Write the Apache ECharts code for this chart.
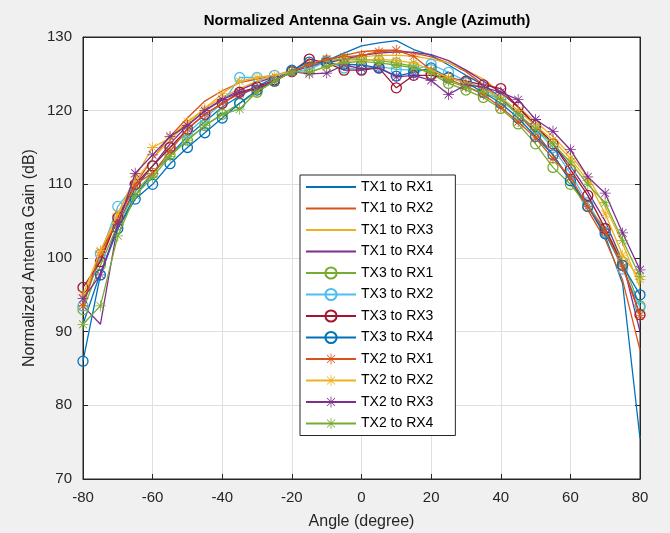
<!DOCTYPE html>
<html>
<head>
<meta charset="utf-8">
<script src="https://cdn.jsdelivr.net/npm/echarts@6/dist/echarts.min.js"></script>
<style>
html,body{margin:0;padding:0;background:#f0f0f0;}
#chart{width:670px;height:533px;}
</style>
</head>
<body>
<div id="chart"></div>
<script>
const angles = [-80,-75,-70,-65,-60,-55,-50,-45,-40,-35,-30,-25,-20,-15,-10,-5,0,5,10,15,20,25,30,35,40,45,50,55,60,65,70,75,80];

const seriesNames = ["TX1 to RX1","TX1 to RX2","TX1 to RX3","TX1 to RX4","TX3 to RX1","TX3 to RX2","TX3 to RX3","TX3 to RX4","TX2 to RX1","TX2 to RX2","TX2 to RX3","TX2 to RX4"];

const tx1rx1 = [91,98,104,108.5,111.5,114,116.5,118.5,120.5,122,123.3,124.5,125.5,126,126.8,127.8,128.8,129.2,129.5,128.3,127.5,126.2,124.8,123.5,121.8,119.5,117,114,110.5,107,103,96.5,75.5];
const tx1rx2 = [94,100,105.5,110,113.5,116.5,119,121.3,122.7,123.8,124.3,124.8,125.3,126,126.8,127.5,128,128.2,128.2,127.8,127.3,126.5,125.3,123.5,121.5,119.5,117,114,110.5,106.5,102.5,97,87.5];
const tx1rx3 = [94.5,100.5,106,110.5,113.5,116,118.3,120.3,121.8,123,124,124.8,125.5,126,126.5,127,127.3,127.5,127.5,127.4,127,126.5,125.5,124.3,122.5,120.5,118.5,116.5,114,111,107,102,96];
const tx1rx4 = [93.5,91,104.5,109.5,112.5,115.5,118,120,121.5,122.8,123.8,124.6,125.3,126,126.5,127,127.5,127.8,128,127.9,127.6,126.8,125.5,124,122.5,120.5,118,115.5,112.5,109,105,99.5,90];
const tx3rx1 = [93,99,104.5,109,111.5,114,116,118,119.5,121,122.5,124,125.3,126.3,126.8,127,127,126.8,126.5,126,125,123.7,122.8,121.8,120.3,118.2,115.5,112.3,110,107,104,99.5,93.5];
const tx3rx2 = [93.5,100.5,107,110,112.5,115,117,119,121,124.5,124.5,124.8,125.3,125.6,126.7,125.8,125.6,126,125.6,125.5,126.3,125.2,124,123,121.5,119.5,117.5,115,111.5,107.5,103.5,98.5,93.3];
const tx3rx3 = [96,99.5,105.5,110,112.5,115,117.5,119.5,121,122.5,123.2,124.2,125.3,127,126.5,125.5,125.5,125.8,123.1,124.8,124.8,124.5,124,123.5,123,120.5,118,115.5,112,108.5,104,99,92.3];
const tx3rx4 = [86,97.7,104,108,110,112.8,115,117,119,121,122.8,124,125.5,126.6,126.5,126.3,126.2,125.8,124.7,125.2,125.8,124.5,123.8,122.5,121,119,116.5,114,110.5,107,103.3,99,95];
const tx2rx1 = [93.5,100.8,105,110,111.5,114.5,117.5,119.5,121,122.3,123,124,125.3,126.3,127,127.3,127.5,128,128.2,127.4,125.5,124.3,123.3,122.2,120.5,118.5,116.3,113.5,111,107,103.6,98.8,92.2];
const tx2rx2 = [95,101,106,111,115,116.3,118.5,120.3,122.3,124,124.5,124.8,125.2,125.2,126,126.7,126.8,127,126.8,126.5,125.5,124.5,123.8,123,121.8,120,118,116,113.5,110.5,106,100.4,97.1];
const tx2rx3 = [94.5,97.7,104.5,111.5,114,116.5,118,120,121.5,122.5,123,124,125.3,125,125.1,126.2,125.7,125.8,124.6,124.8,124.1,122.2,123.5,123.2,122.5,121.5,118.8,117.2,114.7,111,108.8,103.4,98.4];
const tx2rx4 = [91,93.5,103,108.5,111,113.8,116,118,119.5,120.2,122.6,124,125.3,125.2,126,126.5,126.7,126.5,126.2,125.8,125.2,124,123.2,122.5,121.5,119.5,117.5,115.5,113,110,107.5,102.4,97.5];

const xTicks = [-80,-60,-40,-20,0,20,40,60,80];
const yTicks = [70,80,90,100,110,120,130];

const values = [tx1rx1,tx1rx2,tx1rx3,tx1rx4,tx3rx1,tx3rx2,tx3rx3,tx3rx4,tx2rx1,tx2rx2,tx2rx3,tx2rx4];
const colors = ['#0072BD','#D95319','#EDB120','#7E2F8E','#77AC30','#4DBEEE','#A2142F','#0072BD','#D95319','#EDB120','#7E2F8E','#77AC30'];
const markers = ['none','none','none','none','circle','circle','circle','circle','star','star','star','star'];

const starPath = 'path://M9.3 0 L10.7 0 L10.7 20 L9.3 20 Z M0 9.3 L20 9.3 L20 10.7 L0 10.7 Z M2.4 3.4 L3.4 2.4 L17.6 16.6 L16.6 17.6 Z M16.6 2.4 L17.6 3.4 L3.4 17.6 L2.4 16.6 Z';

const series = values.map((v, i) => {
  const c = colors[i];
  const s = {
    name: seriesNames[i],
    type: 'line',
    data: v.map((y, k) => [angles[k], y]),
    color: c,
    lineStyle: {color: c, width: 1.3},
    animation: false,
    z: 2 + i
  };
  if (markers[i] === 'none') {
    s.symbol = 'none';
    s.showSymbol = false;
  } else if (markers[i] === 'circle') {
    s.symbol = 'circle';
    s.symbolSize = 10;
    s.itemStyle = {color: 'rgba(255,255,255,0)', borderColor: c, borderWidth: 1.3};
  } else {
    s.symbol = starPath;
    s.symbolSize = 11;
    s.itemStyle = {color: c, borderWidth: 0};
  }
  return s;
});

const legendData = seriesNames.map((n, i) => markers[i] === 'none'
  ? {name: n, itemStyle: {opacity: 0, color: 'rgba(0,0,0,0)', borderColor: 'rgba(0,0,0,0)'}}
  : {name: n});

const axisCol = '#262626';
const font = '"Liberation Sans", Arial, Helvetica, sans-serif';

const chart = echarts.init(document.getElementById('chart'), null, {renderer: 'canvas'});
chart.setOption({
  backgroundColor: '#f0f0f0',
  animation: false,
  textStyle: {fontFamily: font},
  title: {
    text: 'Normalized Antenna Gain vs. Angle (Azimuth)',
    left: 362, top: 8, textAlign: 'center',
    textStyle: {fontSize: 15, fontWeight: 'bold', color: '#000', fontFamily: font}
  },
  grid: {left: 83, right: 30, top: 37, bottom: 54, show: true, backgroundColor: '#ffffff', borderColor: axisCol, borderWidth: 1, outerBoundsMode: 'none', containLabel: false},
  legend: {
    orient: 'vertical', left: 300, top: 175,
    backgroundColor: '#ffffff', borderColor: axisCol, borderWidth: 1, borderRadius: 0,
    padding: [5, 22, 5, 5],
    itemWidth: 50, itemHeight: 14, itemGap: 7.5,
    textStyle: {fontSize: 14, color: '#000', fontFamily: font},
    data: legendData
  },
  xAxis: [{
    type: 'value', min: xTicks[0], max: xTicks[xTicks.length-1], interval: 20,
    name: 'Angle (degree)', nameLocation: 'middle', nameGap: 35, nameMoveOverlap: false,
    nameTextStyle: {fontSize: 16, color: axisCol, fontFamily: font},
    axisLine: {show: true, onZero: false, lineStyle: {color: axisCol}},
    axisTick: {show: true, inside: true, length: 5, lineStyle: {color: axisCol}},
    axisLabel: {fontSize: 15, color: axisCol, margin: 11, fontFamily: font},
    splitLine: {show: true, lineStyle: {color: '#dfdfdf', width: 1}}
  }, {
    type: 'value', position: 'top', min: xTicks[0], max: xTicks[xTicks.length-1], interval: 20,
    axisLine: {show: true, onZero: false, lineStyle: {color: axisCol}},
    axisTick: {show: true, inside: true, length: 5, lineStyle: {color: axisCol}},
    axisLabel: {show: false}, splitLine: {show: false}
  }],
  yAxis: [{
    type: 'value', min: yTicks[0], max: yTicks[yTicks.length-1], interval: 10,
    name: 'Normalized Antenna Gain (dB)', nameLocation: 'middle', nameGap: 45, nameMoveOverlap: false,
    nameTextStyle: {fontSize: 16, color: axisCol, fontFamily: font},
    axisLine: {show: true, onZero: false, lineStyle: {color: axisCol}},
    axisTick: {show: true, inside: true, length: 5, lineStyle: {color: axisCol}},
    axisLabel: {fontSize: 15, color: axisCol, margin: 11, fontFamily: font},
    splitLine: {show: true, lineStyle: {color: '#dfdfdf', width: 1}}
  }, {
    type: 'value', position: 'right', min: yTicks[0], max: yTicks[yTicks.length-1], interval: 10,
    axisLine: {show: true, onZero: false, lineStyle: {color: axisCol}},
    axisTick: {show: true, inside: true, length: 5, lineStyle: {color: axisCol}},
    axisLabel: {show: false}, splitLine: {show: false}
  }],
  series: series
});
</script>
</body>
</html>
